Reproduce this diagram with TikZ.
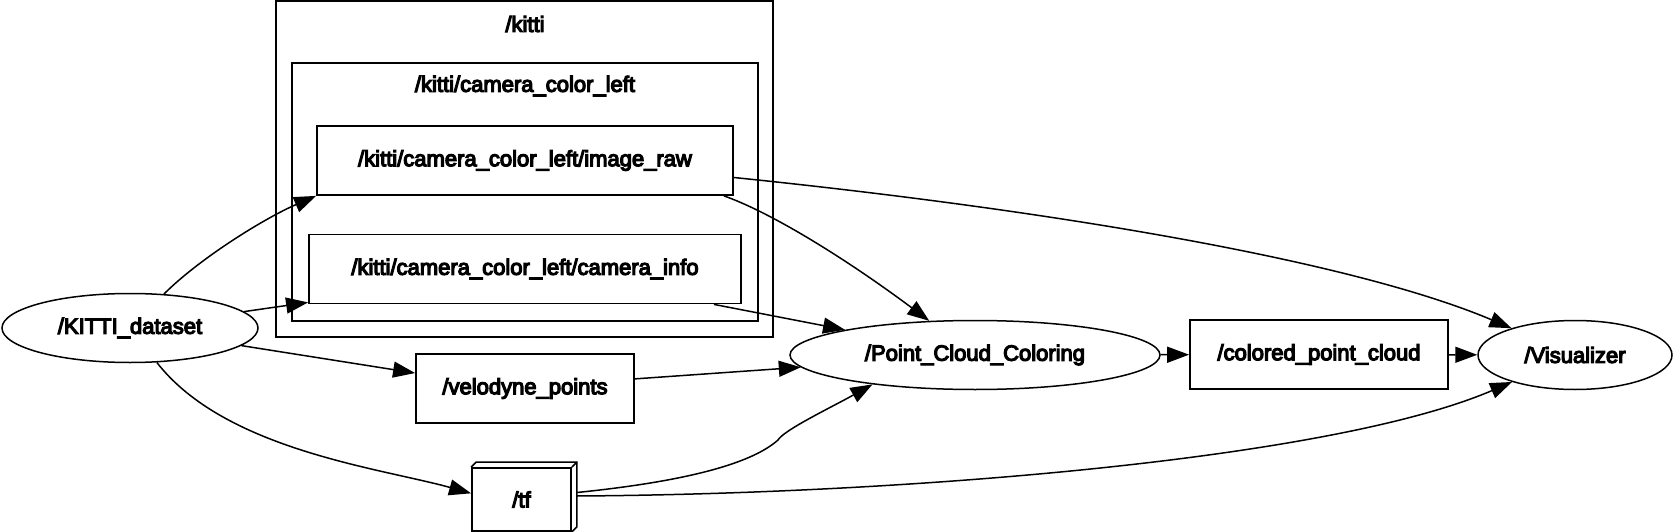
\documentclass[tikz,border=0pt]{standalone}
\usepackage{fontspec}
\setmainfont{Liberation Sans}[FakeBold=5.5]
\usetikzlibrary{shapes.geometric, arrows.meta}

\begin{document}
\begin{tikzpicture}[
    x=1pt, y=-1pt,
    every node/.style={font=\fontsize{22}{26}\selectfont, inner sep=0pt},
    rosnode/.style={draw, ellipse, line width=1.5pt, minimum width=#1, minimum height=69pt},
    topicbox/.style={draw, rectangle, line width=1.8pt, minimum width=#1, minimum height=69pt},
    cluster/.style={draw, line width=1.8pt},
    edge/.style={line width=1.5pt, -{Triangle[length=22pt, width=16pt]}}
]
    \useasboundingbox[fill=white] (0,0) rectangle (1679,532);

    % clusters
    \draw[cluster] (276,1) rectangle (773,337);
    \node (kittilbl) at (525,24) {/kitti};
    \draw[cluster] (292,63) rectangle (758,321);
    \node (camlbl) at (525,86) {/kitti/camera\_color\_left};

    % nodes and topics
    \node[rosnode=256pt] (kitti) at (130,328) {/KITTI\_dataset};
    \node[topicbox=416pt] (imgraw) at (525,160.5) {/kitti/camera\_color\_left/image\_raw};
    \node[topicbox=432pt] (caminfo) at (525,269) {/kitti/camera\_color\_left/camera\_info};
    \node[topicbox=218pt] (velo) at (525,388.5) {/velodyne\_points};
    \node[topicbox=99pt, minimum height=63pt] (tf) at (521.5,499.5) {/tf};
    \draw[line width=1.5pt] (tf.north west) -- ++(5,-5) -- ([xshift=5pt,yshift=5pt]tf.north east)
        -- ([xshift=5pt,yshift=5pt]tf.south east) -- (tf.south east);
    \draw[line width=1.5pt] (tf.north east) -- ++(5,-5);
    \node[rosnode=370pt] (pcc) at (975,355) {/Point\_Cloud\_Coloring};
    \node[topicbox=258pt] (colored) at (1319,354.5) {/colored\_point\_cloud};
    \node[rosnode=194pt] (vis) at (1575,355) {/Visualizer};

    % connections
    \draw[edge] (kitti) .. controls (200,258) and (265,218) .. (imgraw.south west);
    \draw[edge] (kitti) -- ([yshift=2pt]caminfo.south west);
    \draw[edge] (kitti) -- (velo.172);
    \draw[edge] (kitti) .. controls (225,450) and (380,468) .. (tf.173);
    \draw[edge] ([xshift=-10pt]imgraw.south east) .. controls (770,212) and (845,258) .. (pcc);
    \draw[edge] ([yshift=-17pt]imgraw.east) .. controls (1050,210) and (1350,260) .. (vis);
    \draw[edge] ([xshift=-28pt]caminfo.south east) -- (pcc);
    \draw[edge] (velo.5) -- (pcc);
    \draw[edge] ([xshift=5pt,yshift=7pt]tf.east) .. controls (680,482) and (750,465) .. (778,440)
        .. controls (784,430) and (830,408) .. (pcc.196);
    \draw[edge] ([xshift=5pt,yshift=3.5pt]tf.east) .. controls (900,494) and (1330,460) .. (vis);
    \draw[edge] (pcc) -- (colored);
    \draw[edge] (colored) -- (vis);
\end{tikzpicture}
\end{document}
